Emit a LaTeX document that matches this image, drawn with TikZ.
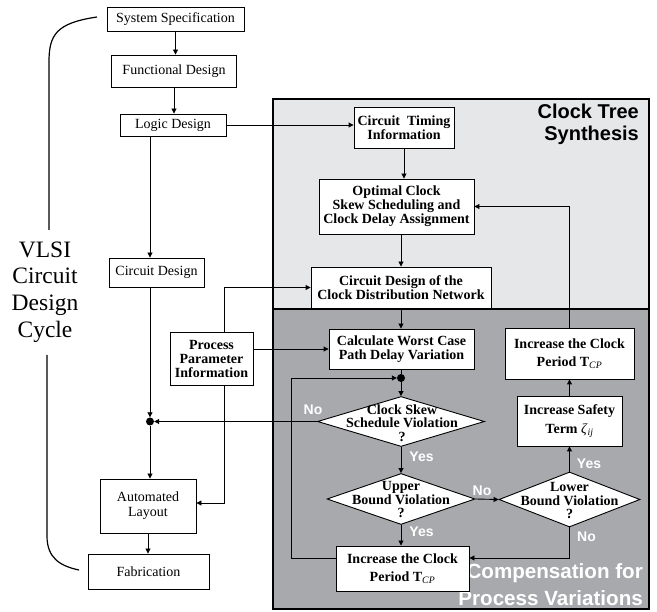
\documentclass[tikz,border=0pt]{standalone}
\usepackage{fontspec}
\setmainfont{Liberation Serif}
\setsansfont{Liberation Sans}
\usetikzlibrary{arrows.meta, shapes.geometric}
\definecolor{lightpanel}{RGB}{230, 231, 232}
\definecolor{darkpanel}{RGB}{167, 169, 172}

\tikzset{
  stagebox/.style={draw, fill=white, line width=0.9pt, inner sep=0pt, align=center,
    font=\fontsize{14}{15}\selectfont},
  clockbox/.style={stagebox, font=\fontsize{14}{14}\selectfont\bfseries},
  decision/.style={diamond, draw, fill=white, line width=0.9pt, inner sep=0pt},
  decisiontext/.style={inner sep=0pt, align=center, font=\fontsize{14}{13.5}\selectfont\bfseries},
  flow/.style={line width=0.9pt, -{Triangle[length=5pt,width=5pt]}},
  answer/.style={text=white, inner sep=0pt, font=\sffamily\bfseries\fontsize{14}{14}\selectfont},
  joint/.style={circle, fill=black, inner sep=0pt, minimum size=8pt},
  paneltitle/.style={inner sep=0pt, align=right, font=\sffamily\bfseries\fontsize{20}{22}\selectfont},
}

\begin{document}
\begin{tikzpicture}[x=1pt, y=-1pt]
  \useasboundingbox (0,0) rectangle (657,612);

  % Bereiche
  \draw[line width=1.1pt, fill=lightpanel] (273,99) rectangle (649,309);
  \draw[line width=1.1pt, fill=darkpanel] (273,309) rectangle (649,609);
  \node[paneltitle, anchor=east] (ctstitle) at (639,124) {Clock Tree\\Synthesis};
  \node[paneltitle, text=white, anchor=south east, font=\sffamily\bfseries\fontsize{20.6}{27}\selectfont]
    (comptitle) at (643,606) {Compensation for\\Process Variations};

  % Entwurfszyklus links
  \node[stagebox, minimum width=137, minimum height=24] (spec) at (175.5,19) {System Specification};
  \node[stagebox, minimum width=125, minimum height=32] (func) at (174,71) {Functional Design};
  \node[stagebox, minimum width=106, minimum height=22] (logic) at (173,125) {Logic Design};
  \node[stagebox, minimum width=95, minimum height=29] (circ) at (156.5,272.5) {Circuit Design};
  \node[clockbox, minimum width=83, minimum height=53] (proc) at (211.5,358.5) {Process\\Parameter\\Information};
  \node[joint] (merge) at (150,421.5) {};
  \node[stagebox, minimum width=96, minimum height=54] (layout) at (148,506) {Automated\\Layout};
  \node[stagebox, minimum width=121, minimum height=35] (fab) at (148.5,571.5) {Fabrication};

  \node[align=center, inner sep=0pt, font=\fontsize{23.5}{26.7}\selectfont] (cycle) at (45,292)
    {VLSI\\Circuit\\Design\\Cycle};
  \draw[line width=1.2pt] (97,17) .. controls (56,23) and (49,35) .. (49,62) -- (49,230);
  \draw[line width=1.2pt] (47,355) -- (47,536) .. controls (47,558) and (60,566) .. (79,570);

  % Taktbaum-Synthese
  \node[clockbox, minimum width=100, minimum height=41] (timing) at (404,127.5) {Circuit~~Timing\\Information};
  \node[clockbox, minimum width=155, minimum height=55] (skew) at (396.5,206.5)
    {Optimal Clock\\Skew Scheduling and\\Clock Delay Assignment};
  \node[clockbox, minimum width=180, minimum height=41] (network) at (401,287.5)
    {Circuit Design of the\\Clock Distribution Network};

  % Kompensation
  \node[clockbox, minimum width=145, minimum height=40] (worst) at (401.5,349)
    {Calculate Worst Case\\Path Delay Variation};
  \node[joint] (loop) at (401,378) {};
  \node[decision, aspect=3.34, minimum width=167, minimum height=50] (check) at (401,421.5) {};
  \node[decisiontext] (checktext) at (402,423) {Clock Skew\\Schedule Violation\\?};
  \node[decision, aspect=2.9, minimum width=148, minimum height=51] (upper) at (401,499) {};
  \node[decisiontext] (uppertext) at (401,500) {Upper\\Bound Violation\\?};
  \node[decision, aspect=2.56, minimum width=141, minimum height=55] (lower) at (569.5,499.5) {};
  \node[decisiontext] (lowertext) at (569.5,501) {Lower\\Bound Violation\\?};
  \node[clockbox, minimum width=105, minimum height=50] (safety) at (569.5,421)
    {Increase Safety\\[5pt]Term \textit{\mdseries ζ}\textsubscript{\textit{\mdseries ij}}};
  \node[clockbox, minimum width=129, minimum height=51] (periodR) at (569.5,353.5)
    {Increase the Clock\\[4pt]Period T\textsubscript{\textit{\mdseries CP}}};
  \node[clockbox, minimum width=133, minimum height=45] (periodL) at (402.5,568.5)
    {Increase the Clock\\[4pt]Period T\textsubscript{\textit{\mdseries CP}}};
  \coordinate (backR) at (569.5,558);
  \coordinate (backL) at (291,558);

  \node[answer] (no1) at (313,410) {No};
  \node[answer] (yes1) at (421.5,457) {Yes};
  \node[answer] (no2) at (482,491) {No};
  \node[answer] (yes2) at (421.5,532) {Yes};
  \node[answer] (yes3) at (589,464) {Yes};
  \node[answer] (no3) at (586.5,537) {No};

  % Verbindungen
  \draw[flow] (spec) -- (spec |- func.north);
  \draw[flow] (func) -- (func |- logic.north);
  \draw[flow] (logic.south -| merge) -- (circ.north -| merge);
  \draw[flow] (circ.south -| merge) -- (merge);
  \draw[flow] (merge) -- (layout.north -| merge);
  \draw[flow] (layout) -- (layout |- fab.north);
  \draw[flow] (logic.east) -- (logic.east -| timing.west);
  \draw[flow] (timing) -- (timing |- skew.north);
  \draw[flow] (network.north |- skew.south) -- (network.north);
  \draw[flow] (network) -- (network |- worst.north);
  \draw[flow] ([xshift=12.5pt]proc.north) |- (network.west);
  \draw[flow] (proc.east |- worst.west) -- (worst.west);
  \draw[flow] ([xshift=12.5pt]proc.south) |- ([yshift=3pt]layout.east);
  \draw[line width=0.9pt] (worst.south -| loop) -- (loop);
  \draw[flow] (loop) -- (check.north);
  \draw[flow] (check.west) -- (merge);
  \draw[flow] (check.south) -- (upper.north);
  \draw[flow] (upper.east) -- (lower.west);
  \draw[flow] (upper.south) -- (upper.south |- periodL.north);
  \draw[flow] (lower.north) -- (safety.south);
  \draw[flow] (safety.north) -- (periodR.south);
  \draw[flow] (periodR.north) |- (skew.east);
  \draw[flow] (lower.south) -- (backR) -- (backR -| periodL.east);
  \draw[flow] (backL -| periodL.west) -- (backL) |- (loop);
\end{tikzpicture}
\end{document}
